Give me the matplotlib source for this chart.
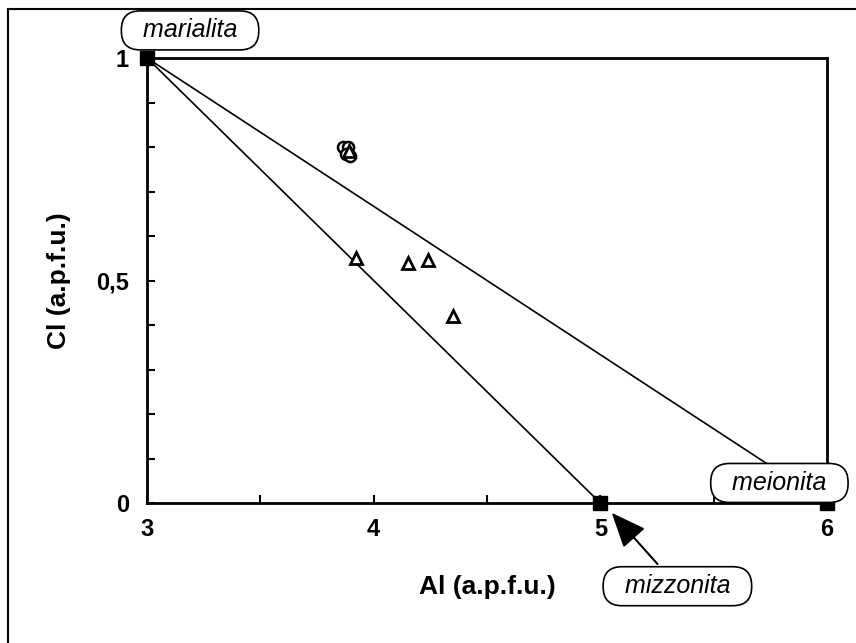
import matplotlib
matplotlib.use("Agg")
import matplotlib.pyplot as plt
from matplotlib.lines import Line2D

# Data
end_x = [3, 5, 6]
end_y = [1, 0, 0]
line1_x = [3, 5]
line1_y = [1, 0]
line2_x = [3, 6]
line2_y = [1, 0]
circ_x = [3.865, 3.885, 3.88, 3.895]
circ_y = [0.80, 0.80, 0.785, 0.78]
tri_x = [3.89, 3.92, 4.15, 4.24, 4.35]
tri_y = [0.79, 0.55, 0.54, 0.545, 0.42]
xtick_labels = ["3", "", "4", "", "5", "", "6"]
ytick_labels = ["0", "", "", "", "", "0,5", "", "", "", "", "1"]

plt.rcParams['font.family'] = ['Liberation Sans', 'DejaVu Sans']

fig = plt.figure(figsize=(8.56, 6.43), dpi=100)
ax = fig.add_axes([147/856, 1-503/643, (827-147)/856, (503-58)/643])

ax.plot(line1_x, line1_y, color='black', lw=1.2, zorder=2)
ax.plot(line2_x, line2_y, color='black', lw=1.2, zorder=2)
ax.plot(circ_x, circ_y, linestyle='none', marker='o', ms=8, mfc='white',
        mec='black', mew=1.8, zorder=3)
ax.plot(tri_x, tri_y, linestyle='none', marker='^', ms=9, mfc='white',
        mec='black', mew=2.0, zorder=3)
ax.plot(end_x, end_y, linestyle='none', marker='s', ms=10, color='black',
        zorder=4, clip_on=False)

ax.set_xlim(3, 6)
ax.set_ylim(0, 1)
ax.set_xticks([3, 3.5, 4, 4.5, 5, 5.5, 6])
ax.set_xticklabels(xtick_labels, fontsize=17, fontweight='bold')
ax.set_yticks([i/10 for i in range(11)])
ax.set_yticklabels(ytick_labels, fontsize=17, fontweight='bold')
ax.tick_params(axis='x', direction='in', length=6, width=1.5, pad=11)
ax.tick_params(axis='y', direction='in', length=6, width=1.5, pad=13)
for s in ax.spines.values():
    s.set_linewidth(2)

ax.set_xlabel("Al (a.p.f.u.)", fontsize=19, fontweight='bold', labelpad=24)
ax.set_ylabel("Cl (a.p.f.u.)", fontsize=19, fontweight='bold', labelpad=18)

bbox = dict(boxstyle="round,pad=0.3,rounding_size=0.75", fc='white', ec='black', lw=1.2)
ax.text(3.19, 1.062, "  marialita  ", fontsize=18, style='italic', ha='center',
        va='center', bbox=bbox, clip_on=False, zorder=6)
ax.text(5.79, 0.045, "  meionita  ", fontsize=18, style='italic', ha='center',
        va='center', bbox=bbox, clip_on=False, zorder=6)
ax.annotate("  mizzonita  ", xy=(5.05, -0.022), xytext=(5.34, -0.187),
            fontsize=18, style='italic', ha='center', va='center', bbox=bbox,
            annotation_clip=False, zorder=6,
            arrowprops=dict(arrowstyle='-|>,head_length=1.2,head_width=0.5',
                            color='black', lw=1.5, shrinkA=2, shrinkB=0))

# Outer frame (left and top only)
fig.add_artist(Line2D([8/856, 8/856], [0, 1-9/643], color='black', lw=1.5,
                      transform=fig.transFigure))
fig.add_artist(Line2D([8/856, 1], [1-9/643, 1-9/643], color='black', lw=1.5,
                      transform=fig.transFigure))

fig.savefig("out.png", dpi=100)
